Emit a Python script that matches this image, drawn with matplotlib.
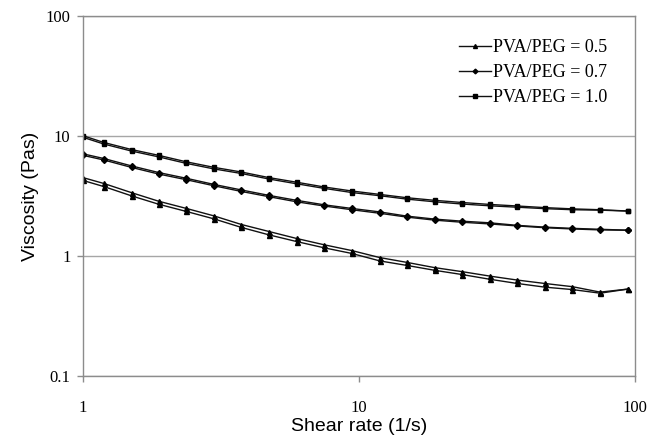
import matplotlib
matplotlib.use("Agg")
import matplotlib.pyplot as plt
from matplotlib.ticker import FixedLocator, NullLocator, FuncFormatter

# Shear rate points (1/s), logarithmic ramp
shear = [1.0, 1.19, 1.5, 1.88, 2.37, 2.98, 3.75, 4.72, 5.94, 7.48, 9.42,
         11.9, 14.9, 18.8, 23.7, 29.8, 37.5, 47.2, 59.4, 74.8, 94.2]

# PVA/PEG = 0.5 (up and down sweeps)
visc_05_up = [4.5, 4.02, 3.37, 2.86, 2.49, 2.16, 1.83, 1.6, 1.4, 1.24, 1.11,
              0.97, 0.885, 0.8, 0.74, 0.68, 0.63, 0.59, 0.555, 0.5, 0.53]
visc_05_down = [4.26, 3.79, 3.17, 2.7, 2.35, 2.04, 1.73, 1.5, 1.32, 1.17, 1.05,
                0.91, 0.835, 0.76, 0.7, 0.64, 0.59, 0.55, 0.525, 0.49, 0.53]

# PVA/PEG = 0.7
visc_07_up = [7.1, 6.49, 5.63, 4.96, 4.44, 3.95, 3.55, 3.2, 2.91, 2.67, 2.49,
              2.33, 2.15, 2.03, 1.95, 1.89, 1.8, 1.74, 1.7, 1.67, 1.64]
visc_07_down = [6.9, 6.31, 5.47, 4.82, 4.32, 3.85, 3.45, 3.12, 2.83, 2.61, 2.43,
                2.27, 2.11, 1.99, 1.91, 1.85, 1.78, 1.72, 1.68, 1.65, 1.64]

# PVA/PEG = 1.0
visc_10_up = [10.05, 8.83, 7.71, 6.9, 6.09, 5.48, 5.01, 4.5, 4.12, 3.76, 3.48,
              3.26, 3.06, 2.91, 2.79, 2.69, 2.61, 2.53, 2.47, 2.43, 2.37]
visc_10_down = [9.75, 8.57, 7.49, 6.7, 5.91, 5.32, 4.87, 4.38, 4.0, 3.66, 3.38,
                3.18, 2.98, 2.83, 2.71, 2.62, 2.55, 2.48, 2.43, 2.41, 2.37]

labels = ["PVA/PEG = 0.5", "PVA/PEG = 0.7", "PVA/PEG = 1.0"]
markers = ["^", "D", "s"]
msizes = [3.6, 3.0, 3.2]

fig = plt.figure(figsize=(6.6, 4.41), dpi=100)
ax = fig.add_axes([0.1258, 0.1474, 0.8362, 0.8163])

series = [(visc_05_up, visc_05_down), (visc_07_up, visc_07_down),
          (visc_10_up, visc_10_down)]
handles = []
for (up, down), lab, m, ms in zip(series, labels, markers, msizes):
    h, = ax.plot(shear, up, color="#111111", lw=1.0, marker=m, ms=ms,
                 mfc="black", mec="black", label=lab)
    ax.plot(shear, down, color="#111111", lw=1.0, marker=m, ms=ms,
            mfc="black", mec="black")
    handles.append(h)

ax.set_xscale("log")
ax.set_yscale("log")
ax.set_xlim(1, 100)
ax.set_ylim(0.1, 100)

ax.xaxis.set_major_locator(FixedLocator([1, 10, 100]))
ax.yaxis.set_major_locator(FixedLocator([0.1, 1, 10, 100]))
ax.xaxis.set_minor_locator(NullLocator())
ax.yaxis.set_minor_locator(NullLocator())
fmt = FuncFormatter(lambda v, p: "%g" % v)
ax.xaxis.set_major_formatter(fmt)
ax.yaxis.set_major_formatter(fmt)

ax.grid(axis="y", color="#a6a6a6", lw=1)
ax.set_axisbelow(True)
for s in ax.spines.values():
    s.set_color("#8c8c8c")
    s.set_linewidth(1)
ax.tick_params(direction="out", length=4, color="#8c8c8c", width=1,
               labelsize=12)
ax.tick_params(axis="x", pad=13)
ax.tick_params(axis="y", pad=5)
for t in ax.get_xticklabels() + ax.get_yticklabels():
    t.set_fontfamily("Liberation Serif")

ax.set_xlabel("Shear rate (1/s)", fontsize=14, family="Liberation Sans",
              labelpad=2)
ax.set_ylabel("Viscosity (Pas)", fontsize=14, family="Liberation Sans",
              labelpad=5)

leg = ax.legend(handles=handles, loc="upper right",
                bbox_to_anchor=(0.945, 0.948), bbox_transform=fig.transFigure,
                frameon=False, prop={"family": "Liberation Serif", "size": 13},
                handlelength=1.8, handletextpad=0.1, labelspacing=0.45,
                markerscale=0.8)

fig.savefig("out.png", dpi=100)
